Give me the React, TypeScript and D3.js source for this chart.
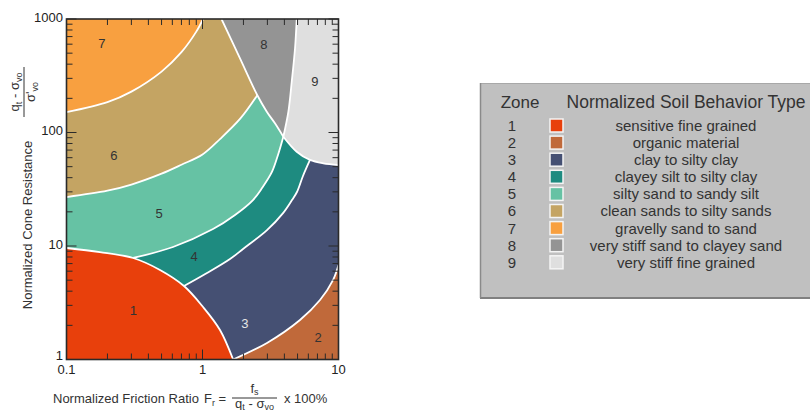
import React from 'react';
import * as d3 from 'd3';

// ---------- data ----------
const xDomain: [number, number] = [0.1, 10];
const yDomain: [number, number] = [1, 1000];
const xTickLabels = ['0.1', '1', '10'];
const yTickLabels = ['1', '10', '100', '1000'];

const zoneIds = ['1', '2', '3', '4', '5', '6', '7', '8', '9'];
const zoneNames = [
  'sensitive fine grained',
  'organic material',
  'clay to silty clay',
  'clayey silt to silty clay',
  'silty sand to sandy silt',
  'clean sands to silty sands',
  'gravelly sand to sand',
  'very stiff sand to clayey sand',
  'very stiff fine grained',
];
const zoneColors = ['#e8400c', '#c0693a', '#455073', '#1e8b80', '#66c2a4', '#c4a463', '#f8a040', '#949494', '#dfdfdf'];
const zoneLabelF = [0.31, 7.07, 2.05, 0.866, 0.479, 0.223, 0.182, 2.83, 6.71];
const zoneLabelQ = [2.73, 1.58, 2.06, 8.17, 19.5, 63.4, 615, 602, 284];

// boundaries, [friction ratio %, normalized cone resistance]
const b76: [number, number][] = [[0.1, 151], [0.2, 185], [0.3, 229], [0.5, 344], [0.7, 510], [0.9, 774], [1.01, 1000]];
const b65: [number, number][] = [[0.1, 27], [0.2, 30.7], [0.3, 34.8], [0.5, 43.4], [0.7, 52], [1.0, 64], [1.35, 88], [1.9, 133], [2.53, 213]];
const b8L: [number, number][] = [[1.38, 1000], [1.887, 450], [2.53, 213], [2.97, 152.5], [3.41, 120.5], [3.93, 91.8]];
const b89: [number, number][] = [[4.93, 1000], [4.79, 552], [4.53, 280], [4.28, 152.5], [3.93, 91.8]];
const b9B: [number, number][] = [[3.93, 91.8], [4.93, 67.7], [6.17, 57.3], [7.73, 53.5], [10, 51.7]];
const b54: [number, number][] = [[3.93, 91.8], [3.59, 63.4], [3.24, 44.9], [2.74, 32.4], [2.35, 25.4], [1.734, 18.76], [1.195, 14.1], [0.607, 9.8], [0.309, 7.84]];
const b43: [number, number][] = [[6.17, 57.3], [5.48, 41.4], [4.95, 29.9], [4.55, 25.4], [3.91, 19.5], [2.98, 13.8], [1.986, 9.41], [1.593, 7.68], [1.079, 5.78], [0.731, 4.44]];
const b1: [number, number][] = [[0.1, 9.6], [0.176, 8.85], [0.309, 7.84], [0.487, 6.15], [0.731, 4.44], [1.01, 2.9], [1.345, 1.82], [1.68, 1.0]];
const b32: [number, number][] = [[1.68, 1.0], [2.98, 1.4], [5.21, 2.23], [7.31, 3.34], [9.11, 5.0], [10, 6.8]];

// ---------- layout ----------
const W = 810, H = 410;
const PL = 66.5, PR = 338.5, PT = 19, PB = 359.5;
const FONT = 'Liberation Sans, Arial, sans-serif';

export default function App() {
  const x = d3.scaleLog().domain(xDomain).range([PL, PR]);
  const y = d3.scaleLog().domain(yDomain).range([PB, PT]);
  const lineGen = d3
    .line<[number, number]>()
    .x((d) => x(d[0]))
    .y((d) => y(d[1]))
    .curve(d3.curveCatmullRom.alpha(0.5));
  const L = (pts: [number, number][]) => lineGen(pts) as string;
  const cont = (pts: [number, number][]) => L(pts).replace(/^M/, 'L');
  const rev = (pts: [number, number][]) => pts.slice().reverse() as [number, number][];
  const pad = 3;
  const cTL = `L${PL - pad},${PT - pad}`;
  const cTR = `L${PR + pad},${PT - pad}`;
  const cBL = `L${PL - pad},${PB + pad}`;
  const cBR = `L${PR + pad},${PB + pad}`;
  const atX = (q: number, side: 'l' | 'r') => `L${side === 'l' ? PL - pad : PR + pad},${y(q)}`;
  const atY = (f: number, side: 't' | 'b') => `L${x(f)},${side === 't' ? PT - pad : PB + pad}`;

  const zone4 = L(b43) + `L${x(0.1) - pad},${PB + pad}` + cTL + cTR + atX(b43[0][1], 'r') + 'Z';
  const zone2 = L(b32) + atX(b32[b32.length - 1][1], 'r') + cBR + 'Z';
  const zone1 = L(b1) + atY(b1[b1.length - 1][0], 'b') + cBL + atX(b1[0][1], 'l') + 'Z';
  const zone5 = L(b54) + atX(b54[b54.length - 1][1], 'l') + cTL + cTR + atX(b54[0][1], 'r') + 'Z';
  const zone6 = L(b65) + atY(b65[b65.length - 1][0], 't') + cTL + atX(b65[0][1], 'l') + 'Z';
  const zone7 = L(b76) + atY(b76[b76.length - 1][0], 't') + cTL + atX(b76[0][1], 'l') + 'Z';
  const zone8 = L(b8L) + cont(rev(b89)) + 'Z';
  const zone9 = L(b89) + cont(b9B) + atX(b9B[b9B.length - 1][1], 'r') + cTR + 'Z';

  const fills: [string, number][] = [
    [zone4, 3], [zone2, 1], [zone5, 4], [zone1, 0], [zone6, 5], [zone7, 6], [zone8, 7], [zone9, 8],
  ];
  const borders = [b76, b65, b8L, b89, b9B, b54, b43, b1, b32];

  const xt = x.ticks();
  const yt = y.ticks();
  const isMajor = (v: number) => Math.abs(Math.log10(v) - Math.round(Math.log10(v))) < 1e-6;
  const tickCol = '#2a2a2a';
  const majLen = 10, minLen = 6;

  const legX = 480, legY = 83, legW = 340, legH = 215;
  const rowY0 = 125.5, rowDy = 17.1;

  return (
    <svg width={W} height={H} style={{ position: 'absolute', left: 0, top: 0, background: '#fff' }} fontFamily={FONT}>
      <defs>
        <clipPath id="plotClip">
          <rect x={PL} y={PT} width={PR - PL} height={PB - PT} />
        </clipPath>
      </defs>
      <g clipPath="url(#plotClip)">
        <rect x={PL} y={PT} width={PR - PL} height={PB - PT} fill={zoneColors[2]} />
        {fills.map(([d, i], k) => (
          <path key={k} d={d} fill={zoneColors[i]} />
        ))}
        {borders.map((b, k) => (
          <path key={k} d={L(b)} fill="none" stroke="#fff" strokeWidth={1.8} />
        ))}
      </g>
      {/* zone labels */}
      {zoneIds.map((id, i) => (
        <text
          key={id}
          x={x(zoneLabelF[i])}
          y={y(zoneLabelQ[i])}
          dy="0.35em"
          textAnchor="middle"
          fontSize={13}
          fill={i === 2 ? '#e6e6e6' : '#333'}
        >
          {id}
        </text>
      ))}
      {/* ticks */}
      <g stroke={tickCol} strokeWidth={1}>
        {xt.map((v, k) => {
          const len = isMajor(v) ? majLen : minLen;
          const px = x(v);
          return (
            <g key={'x' + k}>
              <line x1={px} x2={px} y1={PB} y2={PB - len} />
              <line x1={px} x2={px} y1={PT} y2={PT + len} />
            </g>
          );
        })}
        {yt.map((v, k) => {
          const len = isMajor(v) ? majLen : minLen;
          const py = y(v);
          return (
            <g key={'y' + k}>
              <line x1={PL} x2={PL + len} y1={py} y2={py} />
              <line x1={PR} x2={PR - len} y1={py} y2={py} />
            </g>
          );
        })}
      </g>
      <rect x={PL} y={PT} width={PR - PL} height={PB - PT} fill="none" stroke={tickCol} strokeWidth={1.6} />
      {/* tick labels */}
      {xTickLabels.map((t) => (
        <text key={t} x={x(+t)} y={374} textAnchor="middle" fontSize={13} fill="#222">
          {t}
        </text>
      ))}
      {yTickLabels.map((t) => (
        <text key={t} x={63} y={y(+t) - (t === '1' ? 2 : 0)} dy="0.2em" textAnchor="end" fontSize={13} fill="#222">
          {t}
        </text>
      ))}
      {/* y axis title */}
      <text transform="translate(32,225) rotate(-90)" textAnchor="middle" fontSize={13} fill="#333">
        Normalized Cone Resistance
      </text>
      <g transform="translate(24,92) rotate(-90)" fill="#333" fontSize={13}>
        <text x={0} y={-5} textAnchor="middle">
          <tspan>q</tspan>
          <tspan fontSize={9} dy={3}>t</tspan>
          <tspan dy={-3}> - σ</tspan>
          <tspan fontSize={9} dy={3}>vo</tspan>
        </text>
        <line x1={-25} x2={25} y1={0} y2={0} stroke="#333" strokeWidth={1} />
        <text x={0} y={11} textAnchor="middle">
          <tspan>σ'</tspan>
          <tspan fontSize={9} dy={3}>vo</tspan>
        </text>
      </g>
      {/* x axis title */}
      <g fill="#333" fontSize={13}>
        <text x={53} y={403}>Normalized Friction Ratio</text>
        <text x={204} y={403}>
          <tspan>F</tspan>
          <tspan fontSize={9} dy={3}>r</tspan>
          <tspan dy={-3}> =</tspan>
        </text>
        <text x={254.5} y={392.5} textAnchor="middle">
          <tspan>f</tspan>
          <tspan fontSize={9} dy={2}>s</tspan>
        </text>
        <line x1={232} x2={277} y1={398} y2={398} stroke="#333" strokeWidth={1} />
        <text x={254.5} y={408} textAnchor="middle">
          <tspan>q</tspan>
          <tspan fontSize={9} dy={1.5}>t</tspan>
          <tspan dy={-1.5}> - σ</tspan>
          <tspan fontSize={9} dy={1.5}>vo</tspan>
        </text>
        <text x={284} y={403}>x 100%</text>
      </g>
      {/* legend */}
      <rect x={legX + 0.5} y={legY + 0.5} width={legW} height={legH} fill="#c0c0c0" stroke="#a8a8a8" strokeWidth={1} />
      <line x1={legX} x2={W} y1={legY + legH} y2={legY + legH} stroke="#808080" strokeWidth={2} />
      <line x1={legX + 0.5} x2={legX + 0.5} y1={legY} y2={legY + legH} stroke="#8a8a8a" strokeWidth={1.5} />
      <text x={520} y={108} textAnchor="middle" fontSize={17} fill="#333">Zone</text>
      <text x={686} y={108} textAnchor="middle" fontSize={17.5} fill="#333">Normalized Soil Behavior Type</text>
      {zoneIds.map((id, i) => {
        const cy = rowY0 + i * rowDy;
        return (
          <g key={'lg' + id}>
            <text x={512} y={cy} dy="0.36em" textAnchor="middle" fontSize={15} fill="#333">{id}</text>
            <rect x={550} y={cy - 6.5} width={13} height={13} fill={zoneColors[i]} stroke="#f4f4f4" strokeWidth={1.5} />
            <text x={686} y={cy} dy="0.36em" textAnchor="middle" fontSize={15} fill="#333">{zoneNames[i]}</text>
          </g>
        );
      })}
    </svg>
  );
}
